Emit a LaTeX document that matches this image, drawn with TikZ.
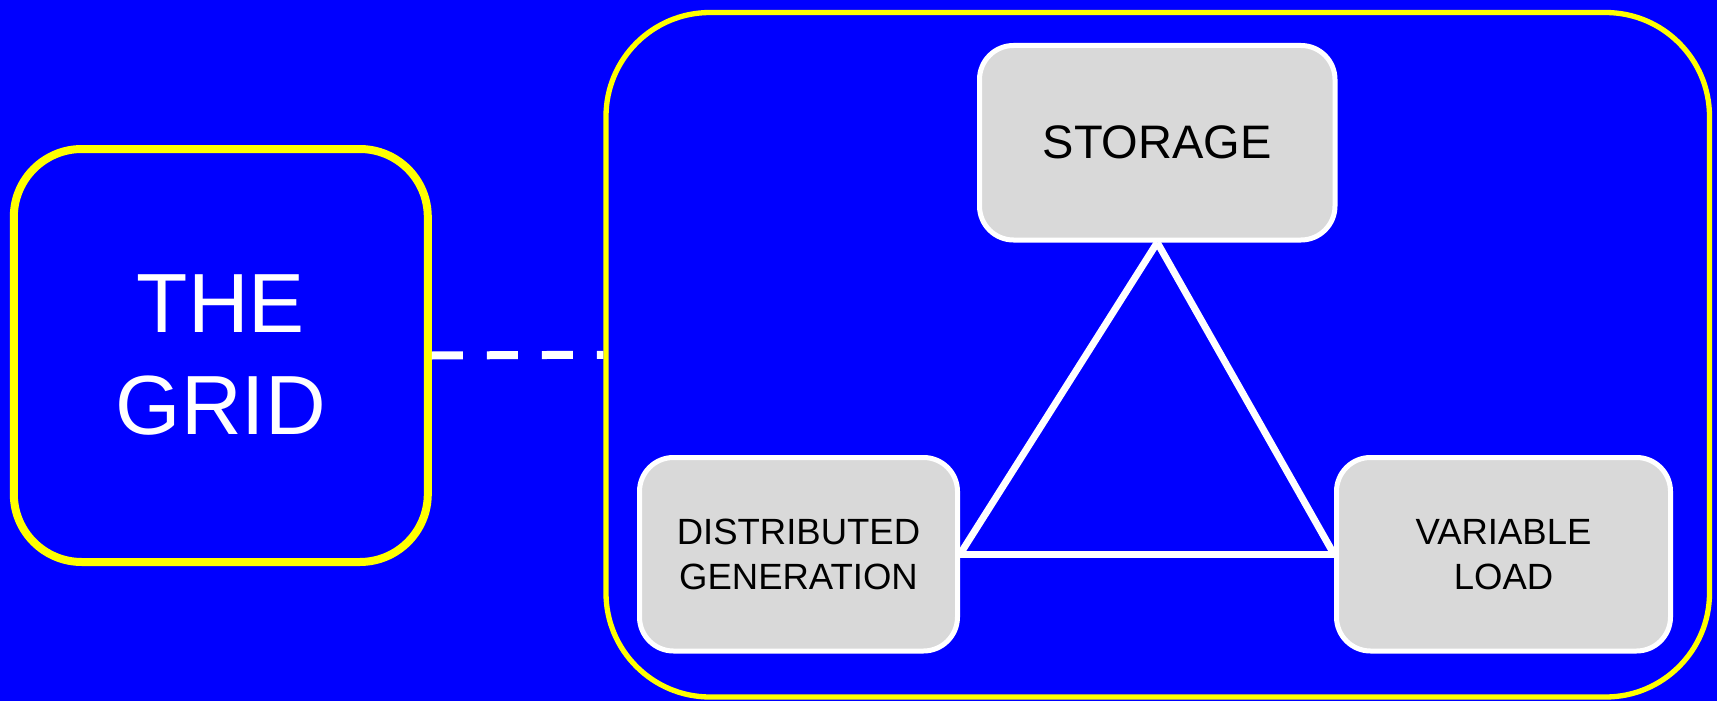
\documentclass[tikz,border=0pt]{standalone}
\usepackage{fontspec}
\setmainfont{Liberation Sans}
\definecolor{bgblue}{RGB}{0,0,255}
\definecolor{ylw}{RGB}{255,255,0}
\definecolor{boxgrey}{RGB}{217,217,217}
\begin{document}
\begin{tikzpicture}[x=1pt,y=-1pt,
  greybox/.style={draw=white, line width=5pt, fill=boxgrey, rounded corners=34pt,
    inner sep=0pt, align=center, text=black},
  smalltxt/.style={font=\fontsize{36.5pt}{45pt}\selectfont},
  link/.style={draw=white, line width=7pt},
  gridlink/.style={draw=white, line width=8pt, dash pattern=on 31pt off 24pt}]
\fill[bgblue] (0,0) rectangle (1717,701);
\useasboundingbox (0,0) rectangle (1717,701);

\node[draw=ylw, line width=8pt, rounded corners=68pt, minimum width=414pt, minimum height=413pt,
  inner sep=0pt, align=center, text=white, font=\fontsize{84pt}{102pt}\selectfont]
  (grid) at (220.8,355.5) {THE\\GRID};

\node[draw=ylw, line width=5.3pt, rounded corners=104pt, minimum width=1103.5pt, minimum height=684.5pt,
  inner sep=0pt] (micro) at (1157.75,354.75) {};

\node[greybox, minimum width=355.5pt, minimum height=194.5pt,
  font=\fontsize{47pt}{56pt}\selectfont] (sto) at (1157.25,142.75) {STORAGE};
\node[greybox, smalltxt, minimum width=318pt, minimum height=193.5pt]
  (dg) at (798.5,554.25) {DISTRIBUTED\\GENERATION};
\node[greybox, smalltxt, minimum width=334pt, minimum height=193.5pt]
  (vl) at (1503.5,554.25) {VARIABLE\\LOAD};

\draw[link] (sto.south) -- (dg.east);
\draw[link] (sto.south) -- (vl.west);
\draw[link] (dg.east) -- (vl.west);

\draw[gridlink] (grid.east) -- (micro.west);
\end{tikzpicture}
\end{document}
